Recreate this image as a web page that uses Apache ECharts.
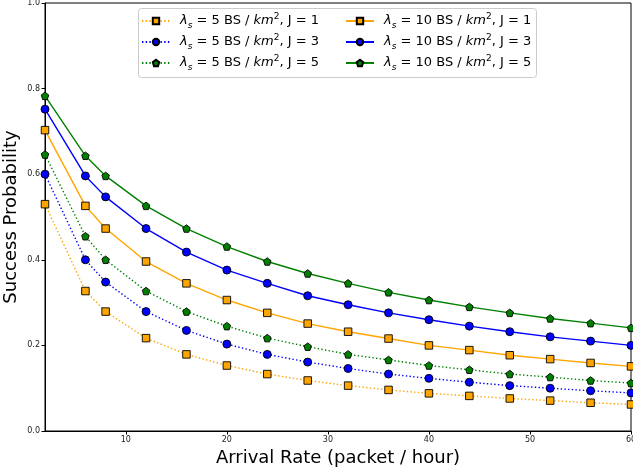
<!DOCTYPE html>
<html>
<head>
<meta charset="utf-8">
<script src="https://cdn.jsdelivr.net/npm/echarts@6/dist/echarts.min.js"></script>
<style>
  html, body { margin: 0; padding: 0; background: #fff; }
  #chart { width: 633px; height: 475px; }
</style>
</head>
<body>
<div id="chart"></div>
<script>
// Arrival rate (packet / hour) at which success probability was evaluated
const arrivalRate = [2, 6, 8, 12, 16, 20, 24, 28, 32, 36, 40, 44, 48, 52, 56, 60];

// Success probability, BS density 5 BS/km^2
const dens5J1 = [0.530, 0.327, 0.279, 0.217, 0.179, 0.153, 0.133, 0.118, 0.106, 0.096, 0.088, 0.082, 0.076, 0.071, 0.066, 0.062];
const dens5J3 = [0.600, 0.400, 0.348, 0.279, 0.235, 0.203, 0.179, 0.161, 0.146, 0.133, 0.123, 0.114, 0.106, 0.100, 0.094, 0.089];
const dens5J5 = [0.646, 0.455, 0.400, 0.327, 0.279, 0.245, 0.217, 0.197, 0.179, 0.166, 0.153, 0.143, 0.133, 0.126, 0.118, 0.112];

// Success probability, BS density 10 BS/km^2
const dens10J1 = [0.703, 0.526, 0.473, 0.396, 0.345, 0.306, 0.276, 0.251, 0.232, 0.216, 0.200, 0.189, 0.177, 0.168, 0.159, 0.151];
const dens10J3 = [0.752, 0.596, 0.547, 0.473, 0.418, 0.376, 0.345, 0.316, 0.295, 0.276, 0.260, 0.245, 0.232, 0.220, 0.210, 0.200];
const dens10J5 = [0.783, 0.643, 0.596, 0.526, 0.473, 0.431, 0.396, 0.368, 0.345, 0.324, 0.306, 0.290, 0.276, 0.263, 0.252, 0.241];

const xTicks = [10, 20, 30, 40, 50, 60];
const yTicks = [0, 0.2, 0.4, 0.6, 0.8, 1.0];

const PENTAGON = 'path://M0,-1L0.951,-0.309L0.588,0.809L-0.588,0.809L-0.951,-0.309Z';
const ORANGE = '#FFA500', BLUE = '#0000FF', GREEN = '#008000';

const curves = [
  { density: 5,  j: 1, data: dens5J1,  color: ORANGE, symbol: 'rect',   dotted: true },
  { density: 5,  j: 3, data: dens5J3,  color: BLUE,   symbol: 'circle', dotted: true },
  { density: 5,  j: 5, data: dens5J5,  color: GREEN,  symbol: PENTAGON, dotted: true },
  { density: 10, j: 1, data: dens10J1, color: ORANGE, symbol: 'rect',   dotted: false },
  { density: 10, j: 3, data: dens10J3, color: BLUE,   symbol: 'circle', dotted: false },
  { density: 10, j: 5, data: dens10J5, color: GREEN,  symbol: PENTAGON, dotted: false }
];

const seriesName = c => 'λs=' + c.density + ',J=' + c.j;

const series = curves.map(c => ({
  name: seriesName(c),
  type: 'line',
  data: arrivalRate.map((x, i) => [x, c.data[i]]),
  symbol: c.symbol,
  symbolSize: c.symbol === 'circle' ? 8 : 7.5,
  showSymbol: true,
  animation: false,
  lineStyle: { color: c.color, width: 1.4, type: c.dotted ? [1.4, 2.3] : 'solid' },
  itemStyle: { color: c.color, borderColor: '#000', borderWidth: 0.9 },
  emphasis: { disabled: true }
}));

const richStyles = {
  it:  { fontFamily: 'DejaVu Sans', fontSize: 13, fontStyle: 'italic', lineHeight: 18, color: '#000' },
  sub: { fontFamily: 'DejaVu Sans', fontSize: 9, fontStyle: 'italic', lineHeight: 9, verticalAlign: 'bottom', color: '#000' },
  sup: { fontFamily: 'DejaVu Sans', fontSize: 9, lineHeight: 9, verticalAlign: 'top', color: '#000' },
  n:   { fontFamily: 'DejaVu Sans', fontSize: 13, lineHeight: 18, color: '#000' }
};

function legendLabel(name) {
  const m = name.match(/λs=(\d+),J=(\d+)/);
  return '{it|λ}{sub|s}{n| = ' + m[1] + ' BS / }{it|km}{sup|2}{n|, J = ' + m[2] + '}';
}

function makeLegend(list, left) {
  return {
    orient: 'vertical',
    left: left,
    top: 12,
    padding: 0,
    itemGap: 3,
    itemWidth: 28,
    itemHeight: 8,
    selectedMode: false,
    data: list.map(seriesName),
    formatter: legendLabel,
    textStyle: { padding: [0, 0, 0, 5], rich: richStyles }
  };
}

const chart = echarts.init(document.getElementById('chart'), null, { renderer: 'canvas' });
chart.setOption({
  animation: false,
  backgroundColor: '#fff',
  grid: {
    left: 45, right: 2, top: 3, bottom: 44,
    outerBoundsMode: 'none',
    containLabel: false,
    show: true, borderColor: '#000', borderWidth: 1, backgroundColor: 'transparent'
  },
  xAxis: {
    type: 'value',
    min: 2, max: 60,
    name: 'Arrival Rate (packet / hour)',
    nameLocation: 'middle',
    nameGap: 16,
    nameTextStyle: { fontFamily: 'DejaVu Sans', fontSize: 18, color: '#000', verticalAlign: 'top' },
    axisLine: { show: true, onZero: false, lineStyle: { color: '#000', width: 1 } },
    axisTick: { show: true, length: 3.5, customValues: xTicks, lineStyle: { color: '#000' } },
    axisLabel: { customValues: xTicks, fontFamily: 'DejaVu Sans', fontSize: 8, color: '#222', margin: 5 },
    splitLine: { show: false }
  },
  yAxis: {
    type: 'value',
    min: 0, max: 1,
    name: 'Success Probability',
    nameLocation: 'middle',
    nameGap: 25,
    nameMoveOverlap: false,
    nameTextStyle: { fontFamily: 'DejaVu Sans', fontSize: 18, color: '#000' },
    axisLine: { show: true, onZero: false, lineStyle: { color: '#000', width: 1 } },
    axisTick: { show: true, length: 3.5, customValues: yTicks, lineStyle: { color: '#000' } },
    axisLabel: {
      customValues: yTicks,
      formatter: v => v.toFixed(1),
      fontFamily: 'DejaVu Sans', fontSize: 8, color: '#222', margin: 5
    },
    splitLine: { show: false }
  },
  legend: [
    makeLegend(curves.filter(c => c.density === 5), 141),
    makeLegend(curves.filter(c => c.density === 10), 345)
  ],
  graphic: [{
    type: 'rect',
    z: 3,
    shape: { x: 138.5, y: 8.5, width: 398, height: 69, r: 3 },
    style: { fill: 'rgba(255,255,255,0.85)', stroke: '#cccccc', lineWidth: 1 }
  }],
  series: series
});
</script>
</body>
</html>
